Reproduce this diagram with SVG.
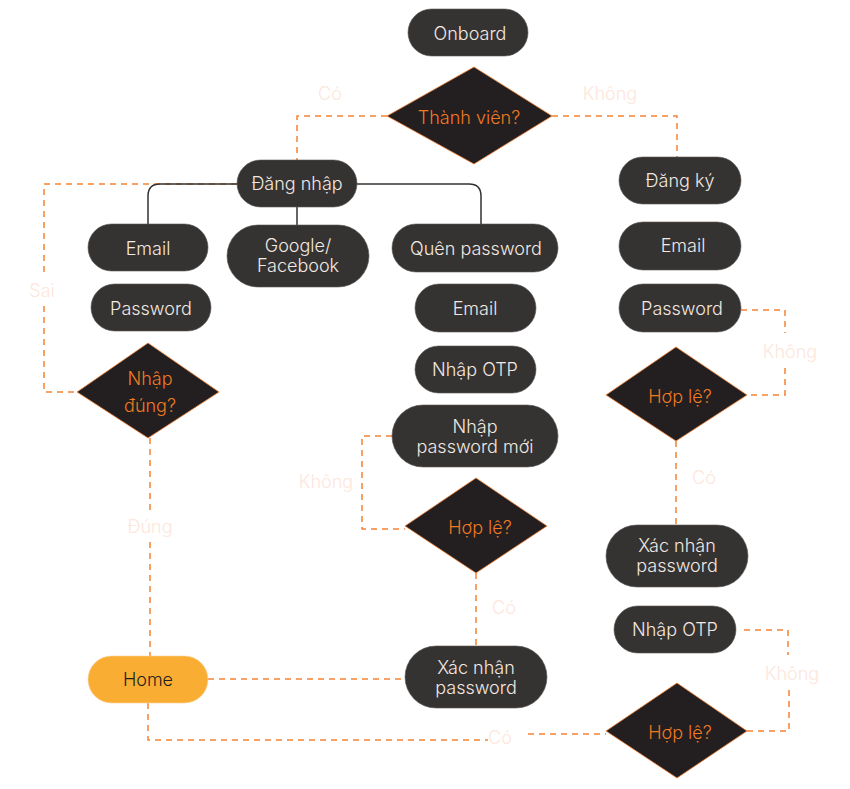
<svg xmlns="http://www.w3.org/2000/svg" width="850" height="789" viewBox="0 0 850 789">
<style>
.n{fill:#353331;stroke:#5a5856;stroke-width:0.6}
.h{fill:#f9ae33;stroke:#fbd29a;stroke-width:0.6}
.d{fill:#231f20;stroke:#f58233;stroke-width:0.8}
.t{font-family:Inter,"Noto Sans",sans-serif;font-size:18px;font-weight:300;fill:#f3e8e2;text-anchor:middle;dominant-baseline:central}
.dt{font-family:Inter,"Noto Sans",sans-serif;font-size:18px;font-weight:300;fill:#f07a22;text-anchor:middle;dominant-baseline:central}
.ht{font-family:Inter,"Noto Sans",sans-serif;font-size:18px;font-weight:300;fill:#231f20;text-anchor:middle;dominant-baseline:central}
.l{font-family:Inter,"Noto Sans",sans-serif;font-size:18px;font-weight:300;fill:#fde6dc;text-anchor:middle;dominant-baseline:central}
.dash{fill:none;stroke:#f58233;stroke-width:1.5;stroke-dasharray:6 5}
.solid{fill:none;stroke:#333231;stroke-width:1.5}
</style>
<g id="connectors">
<path class="dash" d="M387,116 H297 V160"/>
<path class="dash" d="M552,116 H677 V157"/>
<path class="dash" d="M237,184 H44 V272"/>
<path class="dash" d="M44,306 V392 H77"/>
<path class="solid" d="M237,184 H160 Q148,184 148,196 V224"/>
<path class="solid" d="M297,207 V225"/>
<path class="solid" d="M357,184 H469 Q481,184 481,196 V224"/>
<path class="dash" d="M150,438 V510"/>
<path class="dash" d="M150,542 V656"/>
<path class="dash" d="M392,436 H362 V529 H405"/>
<path class="dash" d="M476,573 V647"/>
<path class="dash" d="M208,679 H405"/>
<path class="dash" d="M148,703 V740 H488"/>
<path class="dash" d="M528,734 H606"/>
<path class="dash" d="M741,310 H785 V333"/>
<path class="dash" d="M785,368 V395 H747"/>
<path class="dash" d="M676,441 V525"/>
<path class="dash" d="M744,630 H788 V655"/>
<path class="dash" d="M789,690 V731 H747"/>
<text class="l" x="330" y="93">Có</text>
<text class="l" x="610" y="93">Không</text>
<text class="l" x="42" y="290">Sai</text>
<text class="l" x="150" y="526">Đúng</text>
<text class="l" x="326" y="481">Không</text>
<text class="l" x="504" y="607">Có</text>
<text class="l" x="500" y="737">Có</text>
<text class="l" x="790" y="351">Không</text>
<text class="l" x="704" y="477">Có</text>
<text class="l" x="792" y="673">Không</text>
</g>
<g id="onboard"><rect class="n" x="408" y="9" width="120" height="47" rx="23.5"/><text class="t" x="470" y="33">Onboard</text></g>
<g id="thanhvien"><polygon class="d" points="474,67 552,116 474,164 387,116"/><text class="dt" x="469" y="117">Thành viên?</text></g>
<g id="dangnhap"><rect class="n" x="237" y="160" width="120" height="47" rx="23.5"/><text class="t" x="297" y="183">Đăng nhập</text></g>
<g id="email1"><rect class="n" x="88" y="224" width="120" height="47" rx="23.5"/><text class="t" x="148" y="248">Email</text></g>
<g id="google"><rect class="n" x="227" y="225" width="142" height="62" rx="31"/><text class="t" x="298" y="245">Google/</text><text class="t" x="298" y="265">Facebook</text></g>
<g id="password1"><rect class="n" x="91" y="284" width="120" height="47" rx="23.5"/><text class="t" x="151" y="308">Password</text></g>
<g id="nhapdung"><polygon class="d" points="148,343 219,392 148,438 77,392"/><text class="dt" x="150" y="378">Nhập</text><text class="dt" x="150" y="405">đúng?</text></g>
<g id="quenpw"><rect class="n" x="392" y="224" width="166" height="48" rx="24"/><text class="t" x="476" y="248">Quên password</text></g>
<g id="email2"><rect class="n" x="415" y="284" width="121" height="48" rx="24"/><text class="t" x="475" y="308">Email</text></g>
<g id="otp1"><rect class="n" x="415" y="346" width="121" height="47" rx="23.5"/><text class="t" x="475" y="369">Nhập OTP</text></g>
<g id="newpw"><rect class="n" x="392" y="405" width="166" height="62" rx="31"/><text class="t" x="475" y="426">Nhập</text><text class="t" x="475" y="446">password mới</text></g>
<g id="hople1"><polygon class="d" points="476,478 547,526 476,573 405,526"/><text class="dt" x="480" y="527">Hợp lệ?</text></g>
<g id="xacnhan1"><rect class="n" x="405" y="646" width="142" height="62" rx="31"/><text class="t" x="476" y="667">Xác nhận</text><text class="t" x="476" y="687">password</text></g>
<g id="home"><rect class="h" x="88" y="656" width="120" height="47" rx="23.5"/><text class="ht" x="148" y="679">Home</text></g>
<g id="dangky"><rect class="n" x="619" y="157" width="122" height="47" rx="23.5"/><text class="t" x="680" y="180">Đăng ký</text></g>
<g id="email3"><rect class="n" x="619" y="222" width="122" height="48" rx="24"/><text class="t" x="683" y="245">Email</text></g>
<g id="password3"><rect class="n" x="619" y="284" width="122" height="48" rx="24"/><text class="t" x="682" y="308">Password</text></g>
<g id="hople2"><polygon class="d" points="676,347 747,395 676,441 606,395"/><text class="dt" x="680" y="396">Hợp lệ?</text></g>
<g id="xacnhan2"><rect class="n" x="606" y="525" width="142" height="62" rx="31"/><text class="t" x="677" y="545">Xác nhận</text><text class="t" x="677" y="565">password</text></g>
<g id="otp2"><rect class="n" x="614" y="606" width="122" height="47" rx="23.5"/><text class="t" x="675" y="629">Nhập OTP</text></g>
<g id="hople3"><polygon class="d" points="677,683 747,731 677,778 606,731"/><text class="dt" x="680" y="732">Hợp lệ?</text></g>
</svg>
